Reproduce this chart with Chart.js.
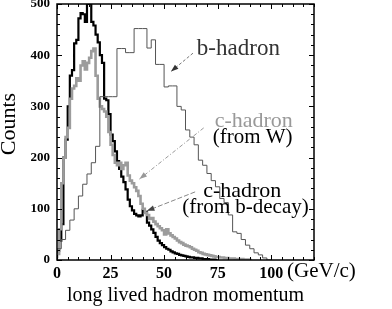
<!DOCTYPE html>
<html><head><meta charset="utf-8">
<script src="https://cdn.jsdelivr.net/npm/chart.js@4.4.1/dist/chart.umd.min.js"></script>
<style>html,body{margin:0;padding:0;background:#fff}</style>
</head><body>
<canvas id="c" width="392" height="309"></canvas>
<script>
// b-hadron histogram: 2 GeV/c bins starting at 0
const bBinWidth = 2;
const bHadron = [6,22,40,58,78,100,125,148,168,190,222,319,319,319,319,413,413,405,405,452,452,452,414,430,382,382,338,340,340,300,293,254,240,225,195,185,169,155,143,120,112,88,55,52,40,29,22,14,10,4,0];
// c-hadron histograms: 1 GeV/c bins starting at 0
const cBinWidth = 1;
const cFromW = [3,12,60,150,200,240,258,315,335,340,355,350,380,388,372,385,395,408,413,360,315,300,295,290,280,250,225,205,190,185,190,178,185,190,165,155,150,142,135,125,110,100,92,88,80,82,75,70,66,62,58,50,60,52,48,45,42,38,35,33,30,28,27,25,22,20,18,15,14,12,11,10,9,8,7,6,6,5,5,4,4,3,3,3,2,2,2,2,1,1,1,0];
const cFromB = [4,18,38,70,200,235,300,360,371,423,430,472,482,480,465,500,505,465,458,440,425,400,385,315,312,285,245,232,212,193,178,163,152,138,118,105,97,90,87,85,87,98,94,73,67,60,53,45,38,33,29,25,22,20,17,15,13,12,10,9,8,7,6,5,5,4,4,3,3,2,2,2,1,1,1,0];
const xTickLabels = [0,25,50,75,100];
const yTickLabels = [0,100,200,300,400,500];
const xRange = [0,120];
const yRange = [0,500];

const toPts = (arr, w) => arr.map((v,i)=>({x:i*w, y:v}));
const SERIF = '"Liberation Serif","DejaVu Serif",serif';

const decor = {
  id:'decor',
  afterDatasetsDraw(chart){
    const {ctx, chartArea:a, scales:{x,y}} = chart;
    ctx.save();
    // inward ticks on four sides
    ctx.strokeStyle='#000'; ctx.lineWidth=1;
    ctx.beginPath();
    for (let v=xRange[0]; v<=xRange[1]; v+=5){
      const px=Math.round(x.getPixelForValue(v))+0.5;
      const L = (v%25===0)?5:3;
      ctx.moveTo(px,a.bottom); ctx.lineTo(px,a.bottom-L);
      ctx.moveTo(px,a.top); ctx.lineTo(px,a.top+L);
    }
    for (let v=yRange[0]; v<=yRange[1]; v+=20){
      const py=Math.round(y.getPixelForValue(v))+0.5;
      const L = (v%100===0)?5:3;
      ctx.moveTo(a.left,py); ctx.lineTo(a.left+L,py);
      ctx.moveTo(a.right,py); ctx.lineTo(a.right-L,py);
    }
    ctx.stroke();
    ctx.lineWidth=1.5;
    ctx.strokeRect(a.left,a.top,a.right-a.left,a.bottom-a.top);

    const P = (gx,cy)=>[x.getPixelForValue(gx), y.getPixelForValue(cy)];
    const arrow=(from,to,color,dash,headColor)=>{
      const [x1,y1]=P(...from), [x2,y2]=P(...to);
      ctx.strokeStyle=color; ctx.lineWidth=1; ctx.setLineDash(dash);
      ctx.beginPath(); ctx.moveTo(x1,y1); ctx.lineTo(x2,y2); ctx.stroke();
      ctx.setLineDash([]);
      const ang=Math.atan2(y2-y1,x2-x1), hl=8, hw=0.35;
      ctx.fillStyle=headColor;
      ctx.beginPath(); ctx.moveTo(x2,y2);
      ctx.lineTo(x2-hl*Math.cos(ang-hw), y2-hl*Math.sin(ang-hw));
      ctx.lineTo(x2-hl*Math.cos(ang+hw), y2-hl*Math.sin(ang+hw));
      ctx.closePath(); ctx.fill();
    };
    arrow([63.5,404],[53.2,368],'#777',[3,2],'#333');
    arrow([68.5,258],[38.5,158],'#999',[4,2,1,2],'#999');
    arrow([64.5,133],[42,96],'#888',[5,2],'#444');

    const txt=(s,gx,cy,size,color,align)=>{
      const [px,py]=P(gx,cy);
      ctx.font=size+'px '+SERIF; ctx.fillStyle=color; ctx.textAlign=align; ctx.textBaseline='alphabetic';
      ctx.fillText(s,px,py);
    };
    txt('b-hadron',65.3,400,23,'#333','left');
    txt('c-hadron',73.6,260,22,'#999','left');
    txt('(from W)',72.7,228,21,'#000','left');
    txt('c-hadron',86.5,123,22,'#000','center');
    txt('(from b-decay)',88,92,21,'#000','center');

    // axis titles and unit
    ctx.fillStyle='#000'; ctx.textBaseline='alphabetic';
    ctx.font='21px '+SERIF; ctx.textAlign='left';
    ctx.fillText('(GeV/c)', a.right-27, 277);
    ctx.font='20px '+SERIF; ctx.textAlign='center';
    ctx.fillText('long lived hadron momentum', (a.left+a.right)/2, 301);
    ctx.save(); ctx.translate(15,124); ctx.rotate(-Math.PI/2);
    ctx.font='22px '+SERIF; ctx.textAlign='center';
    ctx.fillText('Counts',0,0); ctx.restore();
    ctx.restore();
  }
};

const zeroPad = s => { s.paddingTop=0; s.paddingBottom=0; s.paddingLeft=0; s.paddingRight=0; };

new Chart(document.getElementById('c'),{
  type:'line',
  data:{datasets:[
    {label:'b-hadron', data:toPts(bHadron,bBinWidth), stepped:'after', borderColor:'#555', borderWidth:1, pointRadius:0, fill:false, clip:0},
    {label:'c-hadron (from W)', data:toPts(cFromW,cBinWidth), stepped:'after', borderColor:'#9c9c9c', borderWidth:2.6, pointRadius:0, fill:false, clip:0},
    {label:'c-hadron (from b-decay)', data:toPts(cFromB,cBinWidth), stepped:'after', borderColor:'#000', borderWidth:2.2, pointRadius:0, fill:false, clip:0}
  ]},
  options:{
    responsive:false, animation:false, devicePixelRatio:1,
    layout:{padding:{top:4,right:78,bottom:0,left:0}},
    plugins:{legend:{display:false}, tooltip:{enabled:false}},
    scales:{
      x:{type:'linear', min:xRange[0], max:xRange[1],
        grid:{display:false, drawTicks:false}, border:{display:false},
        afterBuildTicks:s=>{s.ticks=xTickLabels.map(v=>({value:v}));},
        afterFit:s=>{s.height=49; zeroPad(s);},
        ticks:{color:'#000', padding:4, maxRotation:0, autoSkip:false, font:{family:SERIF, size:16, weight:'bold'}}},
      y:{type:'linear', min:yRange[0], max:yRange[1],
        grid:{display:false, drawTicks:false}, border:{display:false},
        afterBuildTicks:s=>{s.ticks=yTickLabels.map(v=>({value:v}));},
        afterFit:s=>{s.width=57; zeroPad(s);},
        ticks:{color:'#000', padding:7, autoSkip:false, font:{family:SERIF, size:13, weight:'bold'}}}
    }
  },
  plugins:[decor]
});
</script>
</body></html>
